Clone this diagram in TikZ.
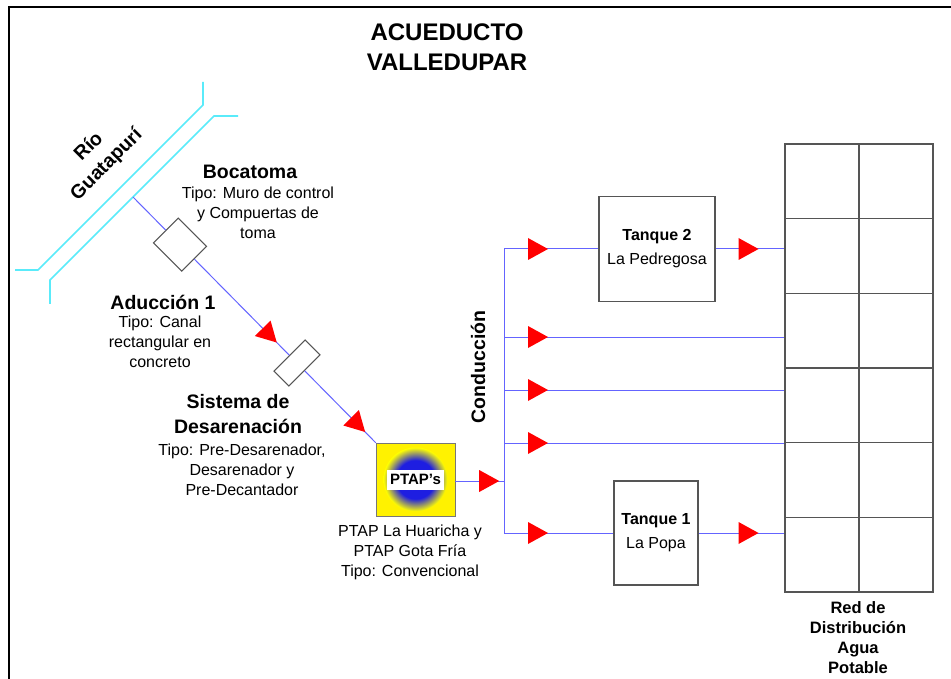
\documentclass[tikz,border=0pt]{standalone}
\usepackage{fontspec}
\setmainfont{Liberation Sans}
\usetikzlibrary{decorations.markings,calc}
\definecolor{riv}{RGB}{90,235,250}
\definecolor{pipe}{RGB}{100,100,255}
\definecolor{edge}{RGB}{85,85,85}
\definecolor{ptapblue}{RGB}{30,30,225}
\pgfdeclareradialshading{ptapshade}{\pgfpoint{0bp}{0bp}}{color(0bp)=(ptapblue); color(15bp)=(ptapblue); color(25bp)=(yellow); color(50bp)=(yellow)}
\begin{document}
\begin{tikzpicture}[x=1pt,y=-1pt,
  lbl/.style={font=\fontsize{19.5}{25}\selectfont\bfseries, align=center, inner sep=0},
  desc/.style={font=\fontsize{16}{20}\selectfont, align=center, inner sep=0},
  pipeline/.style={draw=pipe, line width=1pt},
  river/.style={draw=riv, line width=1.6pt},
  box/.style={draw=edge, line width=1.1pt, fill=white, inner sep=0},
  tank/.style={draw=edge, line width=1.1pt, fill=white, inner sep=0, align=center, font=\fontsize{16}{24}\selectfont},
  flowmark/.style={postaction={decorate}, decoration={markings, mark=at position #1 with {\fill[red] (0,0)--(-20,-11)--(-20,11)--cycle;}}}
]
\useasboundingbox (0,0) rectangle (951,679);
\fill[white] (0,0) rectangle (951,679);
% frame
\draw[line width=1.8pt] (9,680) -- (9,7) -- (952,7);

% title
\node[font=\fontsize{24}{30}\selectfont\bfseries, align=center, inner sep=0] (title) at (447,47) {ACUEDUCTO\\VALLEDUPAR};

% river
\draw[river] (203,82) -- (203,105) -- (38,270) -- (15,270);
\draw[river] (238,116) -- (214,116) -- (50,280) -- (50,304);
\node[font=\fontsize{19.5}{25}\selectfont\bfseries, align=center, inner sep=0, rotate=45] (rio) at (98,156) {Río\\Guatapurí};

% components
\coordinate (r0) at (133,197);
\node[box, rotate=-45, minimum width=40pt, minimum height=35pt] (boca) at (180,244.6) {};
\node[box, rotate=-45, minimum width=21pt, minimum height=44pt] (desar) at (297,363) {};
\node[minimum width=79pt, minimum height=73pt, inner sep=0] (ptap) at (415.5,479.5) {};
\fill[yellow] (ptap.south west) rectangle (ptap.north east);
\shade[shading=ptapshade] (ptap.center) circle (32pt);
\draw[edge!80, line width=0.6pt] (ptap.south west) rectangle (ptap.north east);
\node[fill=white, inner sep=0, minimum width=57pt, minimum height=20pt, font=\fontsize{15}{18}\selectfont\bfseries] (ptaptxt) at (ptap.center) {PTAP's};

% labels
\node[lbl] (bocal) at (250,172) {Bocatoma};
\node[desc] (bocad) at (258,213) {Tipo: Muro de control\\y Compuertas de\\toma};
\node[lbl] (adul) at (163,302) {Aducción 1};
\node[desc] (adud) at (160,342) {Tipo: Canal\\rectangular en\\concreto};
\node[lbl] (desl) at (238,414.5) {Sistema de\\Desarenación};
\node[desc] (desd) at (242,469.5) {Tipo: Pre-Desarenador,\\Desarenador y\\Pre-Decantador};
\node[desc] (ptapd) at (410,552.5) {PTAP La Huaricha y\\PTAP Gota Fría\\Tipo: Convencional};
\node[lbl, rotate=90] (cond) at (478,367) {Conducción};

% tanks
\node[tank, minimum width=116pt, minimum height=105pt] (t2) at (657,249) {{\bfseries Tanque 2}\\La Pedregosa};
\node[tank, minimum width=84pt, minimum height=104pt] (t1) at (656,533) {{\bfseries Tanque 1}\\La Popa};

% grid
\node[draw=edge, line width=1.2pt, minimum width=148pt, minimum height=448pt, inner sep=0] (red) at (859,368) {};
\draw[edge, line width=1.2pt] (red.north) -- (red.south);
\foreach \i in {1,...,5}
  \draw[edge, line width=1.2pt] ($(red.north west)!\i/6!(red.south west)$) -- ($(red.north east)!\i/6!(red.south east)$);
\node[font=\fontsize{16.5}{20}\selectfont\bfseries, align=center, inner sep=0] (redl) at (858,637.5) {Red de\\Distribución\\Agua\\Potable};

% bus coordinates
\coordinate (bt) at (504,249);
\coordinate (b2) at (504,337);
\coordinate (b3) at (504,390);
\coordinate (b4) at (504,443);
\coordinate (bb) at (504,533);

% connectors
\draw[pipeline] (r0) -- (boca);
\draw[pipeline, flowmark=0.87] (boca) -- (desar);
\draw[pipeline, flowmark=0.85] (desar) -- (ptap.north west);
\draw[pipeline] (bt) -- (bb);
\draw[pipeline, flowmark=44pt] (ptap.east |- 0,481) -- (bt |- 0,481);
\draw[pipeline, flowmark=44pt] (bt) -- (t2);
\draw[pipeline, flowmark=43pt] (t2) -- (t2 -| red.west);
\draw[pipeline, flowmark=44pt] (b2) -- (b2 -| red.west);
\draw[pipeline, flowmark=44pt] (b3) -- (b3 -| red.west);
\draw[pipeline, flowmark=44pt] (b4) -- (b4 -| red.west);
\draw[pipeline, flowmark=44pt] (bb) -- (t1);
\draw[pipeline, flowmark=60pt] (t1) -- (t1 -| red.west);
\end{tikzpicture}
\end{document}
